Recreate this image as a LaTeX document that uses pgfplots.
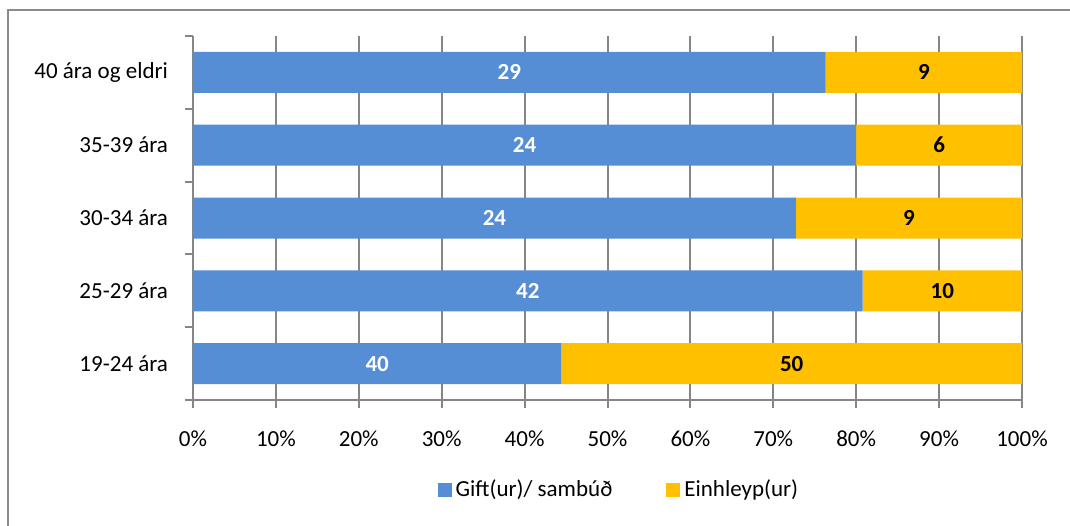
\documentclass[border=0pt]{standalone}
\usepackage{fontspec}
\setmainfont{Carlito}
\usepackage{pgfplots}
\pgfplotsset{compat=1.18}
\definecolor{cblue}{HTML}{558ED5}
\definecolor{cyel}{HTML}{FFC000}
\definecolor{cgrid}{HTML}{868686}
\definecolor{cframe}{HTML}{8C8C8C}
\pgfplotsset{
  commonaxis/.style={
    scale only axis, width=414.5pt, height=182pt,
    xmin=0, xmax=100, ymin=-0.5, ymax=4.5,
  }
}
\begin{document}
\begin{tikzpicture}
\useasboundingbox (-96.5pt,-62.5pt) rectangle (438.5pt,200pt);
\draw[cframe, line width=1pt] (-92.5pt,-63pt) -- (-92.5pt,195pt) -- (439pt,195pt);
\begin{axis}[
  commonaxis,
  xbar stacked, bar width=20.5pt,
  axis x line*=bottom, axis y line*=left,
  axis line style={cgrid, line width=1pt, -},
  xtick={0,10,...,100},
  xticklabels={0\%,10\%,20\%,30\%,40\%,50\%,60\%,70\%,80\%,90\%,100\%},
  ytick={0,1,2,3,4},
  yticklabels={19-24 ára,25-29 ára,30-34 ára,35-39 ára,40 ára og eldri},
  minor ytick={-0.5,0.5,1.5,2.5,3.5,4.5},
  xmajorgrids, major grid style={cgrid, line width=1pt},
  tick align=outside,
  major tick length=4pt, minor tick length=4pt,
  tick style={cgrid, line width=1pt},
  every major y tick/.append style={draw=none},
  tick label style={font=\fontsize{11.5}{14}\selectfont, text=black},
  xticklabel style={yshift=-8pt},
  yticklabel style={xshift=-5pt},
  legend style={at={(0.515,-0.247)}, anchor=center, draw=none, fill=none,
    legend columns=2, font=\fontsize{11.5}{14}\selectfont,
    /tikz/every even column/.append style={column sep=25pt}},
  legend image code/.code={\fill[#1] (0pt,-3.5pt) rectangle (7pt,3.5pt);},
]
\addplot[fill=cblue, draw=none] coordinates {(44.44,0) (80.77,1) (72.73,2) (80,3) (76.32,4)};
\addplot[fill=cyel, draw=none] coordinates {(55.56,0) (19.23,1) (27.27,2) (20,3) (23.68,4)};
\legend{Gift(ur)/ sambúð, Einhleyp(ur)}
\end{axis}
\begin{axis}[commonaxis, hide axis]
\addplot[draw=none, mark=none, nodes near coords, point meta=explicit symbolic,
  nodes near coords style={anchor=center, text=white, font=\fontsize{11.5}{14}\selectfont\bfseries}]
  coordinates {(22.22,0) [40] (40.38,1) [42] (36.36,2) [24] (40,3) [24] (38.16,4) [29]};
\addplot[draw=none, mark=none, nodes near coords, point meta=explicit symbolic,
  nodes near coords style={anchor=center, text=black, font=\fontsize{11.5}{14}\selectfont\bfseries}]
  coordinates {(72.22,0) [50] (90.38,1) [10] (86.36,2) [9] (90,3) [6] (88.16,4) [9]};
\end{axis}
\end{tikzpicture}
\end{document}
